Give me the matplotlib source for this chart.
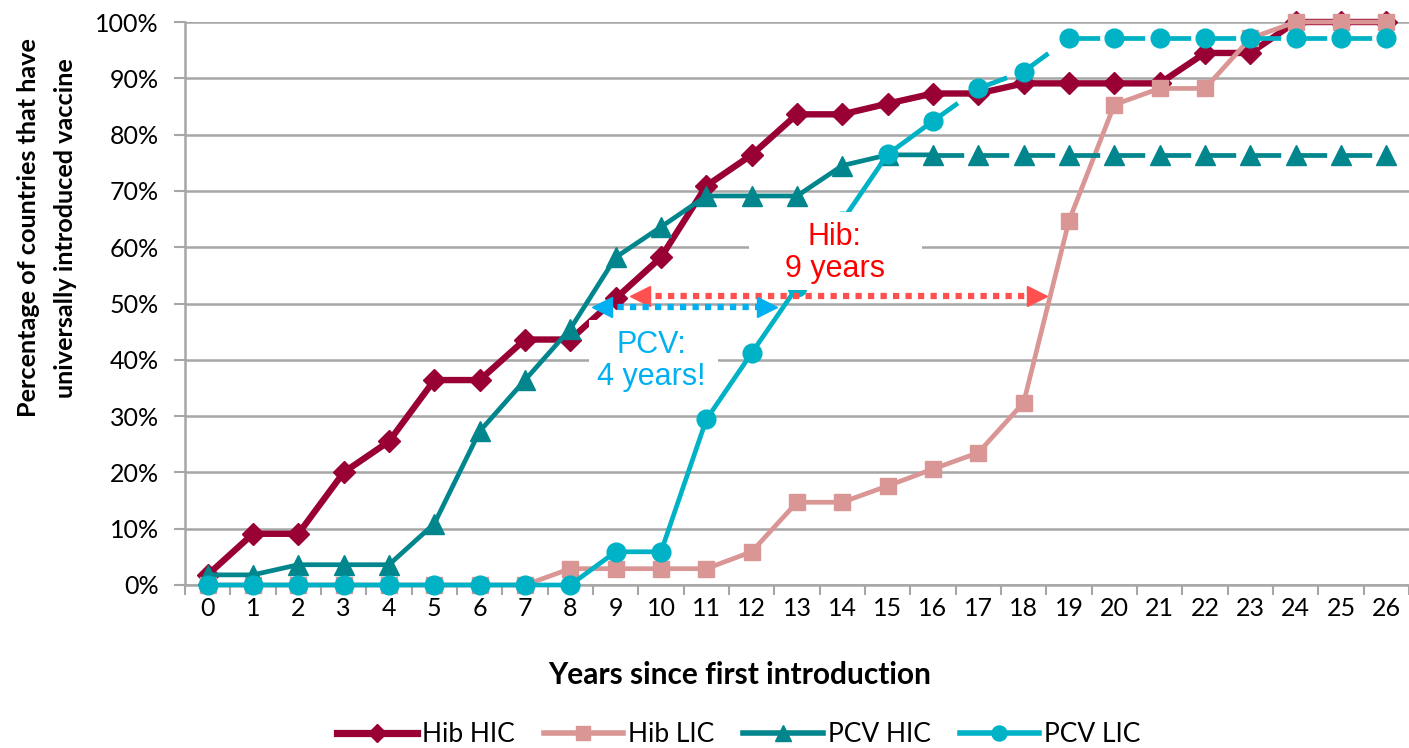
import matplotlib
matplotlib.use("Agg")
import matplotlib.pyplot as plt
from matplotlib.patches import Rectangle
from matplotlib.lines import Line2D

# data (percent of countries)
years = list(range(27))
hib_hic = [1.8, 9.1, 9.1, 20.0, 25.5, 36.4, 36.4, 43.6, 43.6, 50.9, 58.2, 70.9, 76.4, 83.6,
           83.6, 85.5, 87.3, 87.3, 89.1, 89.1, 89.1, 89.1, 94.5, 94.5, 100, 100, 100]
hib_lic = [0, 0, 0, 0, 0, 0, 0, 0, 2.9, 2.9, 2.9, 2.9, 5.9, 14.7,
           14.7, 17.6, 20.6, 23.5, 32.4, 64.7, 85.3, 88.2, 88.2, 97.1, 100, 100, 100]
pcv_hic = [1.8, 1.8, 3.6, 3.6, 3.6, 10.9, 27.3, 36.4, 45.5, 58.2, 63.6, 69.1, 69.1, 69.1,
           74.5, 76.4, 76.4, 76.4, 76.4, 76.4, 76.4, 76.4, 76.4, 76.4, 76.4, 76.4, 76.4]
pcv_lic = [0, 0, 0, 0, 0, 0, 0, 0, 0, 5.9, 5.9, 29.4, 41.2, 52.9,
           64.7, 76.5, 82.4, 88.2, 91.2, 97.1, 97.1, 97.1, 97.1, 97.1, 97.1, 97.1, 97.1]
pcv_projected_from = 16  # PCV lines are projections (dashed) from this year on

series_names = ["Hib HIC", "Hib LIC", "PCV HIC", "PCV LIC"]
series_colors = ["#990033", "#D99694", "#00868C", "#00B2C6"]
series_markers = ["D", "s", "^", "o"]

# annotation: gap between HIC and LIC reaching ~50 %
hib_gap = (9.31, 18.52, 51.3)
pcv_gap = (8.47, 12.55, 49.4)

font = "Lato"
grid_col = "#A6A6A6"

fig = plt.figure(figsize=(14.09, 7.48), dpi=100)
ax = fig.add_axes([185 / 1409, 1 - 585 / 748, 1224 / 1409, 563 / 748])

data = [hib_hic, hib_lic, pcv_hic, pcv_lic]
widths = [4.6, 3.4, 3.4, 3.4]
sizes = [11.5, 12, 14, 13.5]
handles = []
for i, vals in enumerate(data):
    c = series_colors[i]
    style = dict(color=c, lw=widths[i], clip_on=False, zorder=3 + i * 0.1)
    if series_names[i].startswith("PCV"):
        n = pcv_projected_from
        ax.plot(years[:n + 1], vals[:n + 1], **style)
        # dashed projection, one dash per segment starting at each marker
        for k in range(n, len(years) - 1):
            ax.plot(years[k:k + 2], vals[k:k + 2], dashes=(6.5, 20), dash_capstyle="butt", **style)
    else:
        ax.plot(years, vals, **style)
    ax.plot(years, vals, ls="none", marker=series_markers[i], ms=sizes[i], color=c,
            mec=c, clip_on=False, zorder=3.05 + i * 0.1)
    handles.append(Line2D([], [], color=c, lw=widths[i] + 0.6, marker=series_markers[i],
                          ms=sizes[i] * 0.8, mec=c, label=series_names[i]))

ax.set_xlim(-0.5, 26.5)
ax.set_ylim(0, 100)
ax.set_yticks(range(0, 101, 10))
ax.set_yticklabels([f"{v}%" for v in range(0, 101, 10)], fontsize=18, family=font)
ax.set_xticks(years)
ax.set_xticklabels([str(y) for y in years], fontsize=18, family=font)
ax.set_xticks([y - 0.5 for y in years] + [26.5], minor=True)
ax.tick_params(axis="x", which="major", length=0, pad=9, colors="black")
ax.tick_params(axis="x", which="minor", length=7, width=1.5, color=grid_col, direction="out")
ax.tick_params(axis="y", length=8, width=1.5, color=grid_col, pad=11)

ax.grid(axis="y", color=grid_col, lw=1.8, zorder=1)
ax.set_axisbelow(True)
for s in ["top", "right"]:
    ax.spines[s].set_visible(False)
for s in ["left", "bottom"]:
    ax.spines[s].set_color(grid_col)
    ax.spines[s].set_linewidth(1.8)

# white boxes behind the annotation texts
ax.add_patch(Rectangle((11.95, 52.4), 3.8, 13.9, fc="white", ec="none", zorder=5))
ax.add_patch(Rectangle((8.42, 33.0), 2.83, 14.1, fc="white", ec="none", zorder=5))
ax.text(13.83, 59.0, "Hib:\n9 years", color="#FF0000", fontsize=22, family="Liberation Sans",
        ha="center", va="center", linespacing=1.1, zorder=6)
ax.text(9.79, 39.8, "PCV:\n4 years!", color="#00B0F0", fontsize=22, family="Liberation Sans",
        ha="center", va="center", linespacing=1.1, zorder=6)

# dotted double arrows
for (x0, x1, y), c in [(hib_gap, "#FF5050"), (pcv_gap, "#00B0F0")]:
    ax.plot([x0 + 0.3, x1 - 0.3], [y, y], color=c, lw=4.5, dashes=(1, 1), dash_capstyle="butt",
            zorder=7)
    ax.plot(x0 + 0.22, y, marker="<", ms=15, color=c, mec=c, zorder=7)
    ax.plot(x1 - 0.22, y, marker=">", ms=15, color=c, mec=c, zorder=7)

fig.text(740 / 1409, 1 - 675 / 748, "Years since first introduction", fontsize=21.5,
         fontweight="bold", family=font, ha="center", va="center")
fig.text(47 / 1409, 1 - 228 / 748, "Percentage of countries that have\nuniversally introduced vaccine",
         fontsize=18.2, fontweight="bold", family=font, rotation=90, ha="center", va="center",
         multialignment="center", linespacing=1.7)

fig.legend(handles=handles, loc="center", bbox_to_anchor=(739 / 1409, 1 - 735 / 748), ncol=4,
           frameon=False, prop={"family": font, "size": 19}, handlelength=3.0,
           handletextpad=0.2, columnspacing=1.1, numpoints=1)

fig.savefig("out.png", dpi=100)
